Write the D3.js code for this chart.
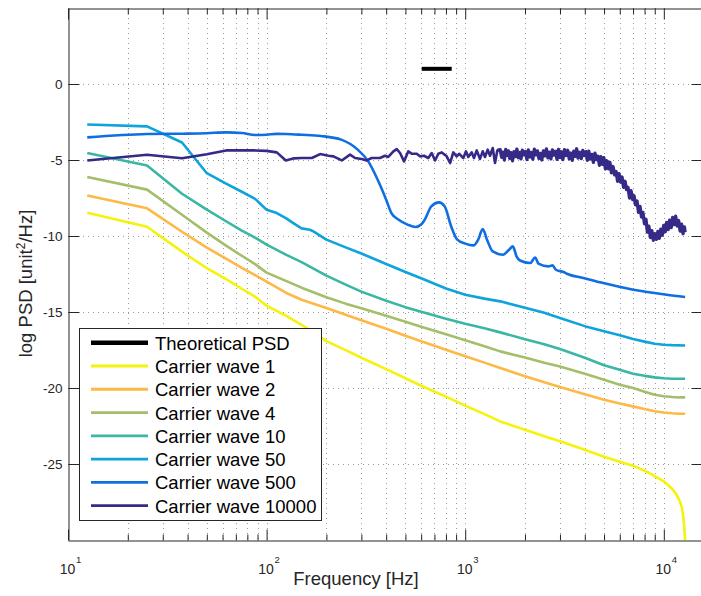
<!DOCTYPE html>
<html><head><meta charset="utf-8">
<script src="https://cdn.jsdelivr.net/npm/d3@7"></script>
<style>
body{margin:0;background:#fff;}
text{font-family:"Liberation Sans",Arial,Helvetica,sans-serif;fill:#262626;}
</style></head><body>
<svg id="c" width="701" height="596"></svg>
<script>
// ---------- DATA ----------
const seriesNames = ["Theoretical PSD","Carrier wave 1","Carrier wave 2","Carrier wave 4","Carrier wave 10","Carrier wave 50","Carrier wave 500","Carrier wave 10000"];
const seriesColors = ["#000000","#f5f20c","#fdb845","#a4be6b","#3ab7a2","#0ea3db","#0f6fe2","#352a87"];

const xMajorTicks = [10,100,1000,10000];
const xMajorExp = ["1","2","3","4"];
const xMinorTicks = [20,30,40,50,60,70,80,90,200,300,400,500,600,700,800,900,2000,3000,4000,5000,6000,7000,8000,9000];
const yTicks = [-25,-20,-15,-10,-5,0];

const theoFreq = [604, 855];
const theoPSD = [1, 1];

const freqSmooth = [12.5,25,37.5,50,62.5,75,87.5,100,125,150,200,250,300,400,500,600,800,1000,1250,1500,2000,2500,3000,4000,5000,6000,7000,8000,9000,10000,11000,12000,12800];

const freqWave1 = [12.5,25,37.5,50,62.5,75,87.5,100,125,150,200,250,300,400,500,600,800,1000,1250,1500,2000,2500,3000,4000,5000,6000,7000,8000,9000,10000,11000,11500,12000,12300,12500,12600,12700,12800];
const wave1 = [-8.47,-9.39,-11.03,-12.12,-12.84,-13.47,-13.99,-14.59,-15.24,-15.84,-16.92,-17.51,-18.01,-18.76,-19.36,-19.85,-20.57,-21.16,-21.72,-22.2,-22.74,-23.17,-23.51,-24.06,-24.52,-24.85,-25.11,-25.44,-25.80,-26.14,-26.63,-26.95,-27.41,-27.81,-28.34,-28.80,-29.32,-30.11];

const wave2 = [-7.33,-8.18,-9.72,-10.77,-11.49,-12.09,-12.58,-13.0,-13.73,-14.19,-14.74,-15.18,-15.54,-16.10,-16.56,-16.92,-17.48,-17.91,-18.33,-18.68,-19.22,-19.62,-19.93,-20.41,-20.77,-21.02,-21.21,-21.38,-21.53,-21.61,-21.66,-21.69,-21.69];

const wave4 = [-6.12,-6.95,-8.6,-9.78,-10.63,-11.30,-11.85,-12.41,-12.95,-13.4,-14.03,-14.45,-14.75,-15.24,-15.64,-15.97,-16.46,-16.86,-17.25,-17.59,-18.0,-18.34,-18.58,-19.06,-19.45,-19.78,-20.0,-20.24,-20.44,-20.54,-20.59,-20.62,-20.62];

const wave10 = [-4.54,-5.36,-7.22,-8.27,-9.03,-9.65,-10.11,-10.57,-11.23,-11.72,-12.61,-13.20,-13.66,-14.26,-14.68,-14.98,-15.44,-15.77,-16.07,-16.34,-16.79,-17.12,-17.44,-18.01,-18.5,-18.80,-19.06,-19.20,-19.30,-19.36,-19.39,-19.39,-19.39];

const freqWave50 = [12.5,25,37.5,50,62.5,75,87.5,100,112.5,125,137.5,150,165,172,200,250,300,400,500,600,800,1000,1250,1500,2000,2500,3000,4000,5000,6000,7000,8000,9000,10000,11000,12800];
const wave50 = [-2.66,-2.79,-3.85,-5.87,-6.56,-7.09,-7.56,-8.27,-8.49,-8.82,-9.19,-9.50,-9.59,-9.70,-10.24,-10.75,-11.15,-11.84,-12.37,-12.78,-13.45,-13.86,-14.12,-14.30,-14.72,-15.05,-15.39,-15.93,-16.26,-16.53,-16.78,-16.95,-17.09,-17.15,-17.18,-17.2];

const freqWave500 = [12.5,25,37.5,50,62.5,75,87.5,100,112.5,125,150,187.5,237.5,287.5,325,362.5,400,425,462.5,512.5,562.5,600,625,675,737.5,787.5,850,912.5,1000,1100,1162.5,1225,1287.5,1375,1550,1662.5,1737.5,1812.5,1887.5,2125,2250,2337.5,2625,2750,2862.5,3125,3250,3937.5,4775,7025,10337.5,12800];
const wave500 = [-3.51,-3.29,-3.27,-3.24,-3.18,-3.22,-3.36,-3.34,-3.28,-3.29,-3.34,-3.42,-3.66,-4.32,-5.09,-6.30,-7.61,-8.49,-8.93,-9.25,-9.41,-9.25,-8.93,-8.05,-7.79,-8.05,-9.37,-10.24,-10.5,-10.62,-10.24,-9.54,-10.24,-11.01,-11.23,-10.9,-10.68,-11.34,-11.61,-11.78,-11.41,-11.82,-12.0,-11.93,-12.22,-12.37,-12.48,-12.76,-13.05,-13.53,-13.86,-14.01];

// [frequency, log PSD] pairs
const wave10000 = [
[12.5,-5.03],[25,-4.65],[37.5,-4.89],[50,-4.62],[62.5,-4.37],[75,-4.37],[87.5,-4.37],[100,-4.40],[112.5,-4.50],[125,-5.03],[137.5,-4.89],[150,-4.87],
[169,-4.87],[186,-4.61],[205,-4.72],[217,-4.76],[239,-5.03],[263,-4.65],[279,-4.87],[301,-4.93],[319,-5.03],[338,-4.87],[372,-4.87],[395,-4.72],[410,-4.80],[435,-4.43],[452,-4.28],[470,-4.54],[492,-5.09],[517,-4.43],[538,-4.59],[570,-4.59],[592,-4.76],[620,-4.72],[652,-4.87],[678,-4.54],[705,-5.03],[732,-4.59],[762,-4.50],[807,-4.76],[839,-5.20],[871,-4.50],[906,-4.76],[934,-4.59],[978,-4.87],[1009,-4.43],[1036,-4.80],[1078,-4.50],[1107,-4.87],[1143,-4.37],[1187,-4.93],[1225,-4.43],[1258,-4.80],[1298,-4.32],[1333,-4.72],[1376,-4.21],[1413,-5.20],[1451,-4.37],
[1500,-4.32],[1525,-4.82],[1550,-4.48],[1575,-5.00],[1600,-4.30],[1625,-4.70],[1650,-4.40],[1675,-4.90],[1700,-4.52],[1730,-5.05],[1760,-4.45],[1790,-4.78],[1820,-4.28],[1850,-4.85],[1880,-4.50],[1910,-4.92],[1940,-4.36],[1975,-4.66],[2010,-4.44],[2045,-4.97],
[2080,-4.34],[2115,-4.80],[2150,-4.50],[2190,-4.95],[2230,-4.28],[2270,-4.66],[2310,-4.40],[2350,-4.90],[2390,-4.56],[2430,-5.00],[2475,-4.40],[2520,-4.73],[2565,-4.27],[2610,-4.86],[2655,-4.48],[2700,-4.93],[2750,-4.33],[2800,-4.68],[2850,-4.43],[2900,-4.96],
[2950,-4.30],[3000,-4.84],[3050,-4.46],[3100,-4.98],[3160,-4.32],[3220,-4.70],[3280,-4.36],[3340,-4.93],[3400,-4.54],[3460,-5.02],[3520,-4.42],[3580,-4.76],[3640,-4.26],[3700,-4.88],[3770,-4.49],[3840,-4.91],[3910,-4.37],[3980,-4.70],[4050,-4.45],[4120,-5.02],
[4190,-4.42],[4260,-4.94],[4340,-4.63],[4420,-5.16],[4500,-4.55],[4580,-4.98],[4660,-4.75],[4740,-5.35],[4820,-4.78],[4900,-5.28],[4990,-4.85],[5080,-5.59],[5170,-5.05],[5260,-5.58],[5350,-5.15],[5450,-5.85],[5550,-5.43],[5650,-5.98],[5750,-5.75],[5850,-6.40],
[5950,-5.90],[6050,-6.45],[6160,-6.12],[6270,-6.80],[6380,-6.40],[6490,-6.95],[6600,-6.80],[6720,-7.50],[6840,-7.02],[6960,-7.60],[7080,-7.35],[7200,-7.95],[7330,-7.70],[7460,-8.45],[7590,-8.05],[7720,-8.75],[7850,-8.45],[7990,-9.20],[8130,-8.90],[8270,-9.75],
[8410,-9.35],[8560,-10.10],[8710,-9.65],[8860,-10.28],[9010,-9.85],[9170,-10.22],[9330,-9.70],[9490,-10.15],[9650,-9.55],[9820,-9.95],[9990,-9.30],[10160,-9.72],[10340,-9.10],[10520,-9.58],[10700,-8.95],[10890,-9.45],[11080,-8.78],[11270,-9.25],[11470,-8.70],[11670,-9.35],
[11870,-8.98],[12080,-9.68],[12290,-9.22],[12500,-9.85],[12700,-9.40],[12800,-9.75]
];

// ---------- CHART ----------
const W = 701, H = 596;
const L = 68, T = 8, R = 703, B = 540;
const x = d3.scaleLog().domain([10, 15750]).range([L, R]);
const y = d3.scaleLinear().domain([-30, 5]).range([B, T]);

const svg = d3.select("#c");
svg.append("rect").attr("width", W).attr("height", H).attr("fill", "#fff");
svg.append("defs").append("clipPath").attr("id", "clip")
  .append("rect").attr("x", L).attr("y", T).attr("width", R - L).attr("height", B - T);

// grid
const grid = svg.append("g").attr("stroke", "#9a9a9a").attr("stroke-width", 1).attr("stroke-dasharray", "1,4");
grid.selectAll("line.gx").data(xMajorTicks.slice(1).concat(xMinorTicks)).join("line")
  .attr("class", "gx")
  .attr("x1", d => Math.round(x(d)) + 0.5).attr("x2", d => Math.round(x(d)) + 0.5)
  .attr("y1", T).attr("y2", B);
grid.selectAll("line.gy").data(yTicks).join("line")
  .attr("class", "gy")
  .attr("y1", d => Math.round(y(d)) + 0.5).attr("y2", d => Math.round(y(d)) + 0.5)
  .attr("x1", L).attr("x2", R);

// axes
function styleAxis(g) {
  g.selectAll("path.domain").attr("stroke", "#262626");
  g.selectAll(".tick line").attr("stroke", "#262626");
  g.selectAll(".tick text").attr("font-size", 13.5).attr("fill", "#262626")
    .attr("font-family", "'Liberation Sans',Arial,sans-serif");
}
svg.append("g").attr("transform", `translate(${L + 0.5},0)`)
  .call(d3.axisLeft(y).tickValues(yTicks).tickSize(-11).tickSizeOuter(0).tickPadding(6).tickFormat(d => d))
  .call(styleAxis);
svg.append("g").attr("transform", `translate(${R - 0.5},0)`)
  .call(d3.axisRight(y).tickValues(yTicks).tickSize(-11).tickSizeOuter(0).tickFormat(""))
  .call(styleAxis);
svg.append("g").attr("transform", `translate(0,${B + 0.5})`)
  .call(d3.axisBottom(x).tickValues(xMajorTicks).tickSize(-11).tickSizeOuter(0).tickFormat(""))
  .call(styleAxis);
svg.append("g").attr("transform", `translate(0,${B + 0.5})`)
  .call(d3.axisBottom(x).tickValues(xMinorTicks).tickSize(-6).tickSizeOuter(0).tickFormat(""))
  .call(styleAxis).select("path.domain").remove();
svg.append("g").attr("transform", `translate(0,${T + 0.5})`)
  .call(d3.axisTop(x).tickValues(xMajorTicks).tickSize(-11).tickSizeOuter(0).tickFormat(""))
  .call(styleAxis);
svg.append("g").attr("transform", `translate(0,${T + 0.5})`)
  .call(d3.axisTop(x).tickValues(xMinorTicks).tickSize(-6).tickSizeOuter(0).tickFormat(""))
  .call(styleAxis).select("path.domain").remove();

// x tick labels 10^n
const xl = svg.append("g");
xMajorTicks.forEach((v, i) => {
  xl.append("text").attr("x", x(v) - 0.5).attr("y", 574).attr("text-anchor", "middle")
    .attr("font-size", 14).text("10");
  xl.append("text").attr("x", x(v) + 8).attr("y", 563).attr("text-anchor", "start")
    .attr("font-size", 9.5).text(xMajorExp[i]);
});

// axis labels
svg.append("text").attr("x", 356).attr("y", 585).attr("text-anchor", "middle")
  .attr("font-size", 18.5).text("Frequency [Hz]");
const yl = svg.append("text").attr("transform", "translate(32,283.5) rotate(-90)")
  .attr("text-anchor", "middle").attr("font-size", 18.5);
yl.append("tspan").text("log PSD [unit");
yl.append("tspan").attr("font-size", 12).attr("dy", -7).text("2");
yl.append("tspan").attr("dy", 7).text("/Hz]");

// series
const series = [
  {data: d3.zip(theoFreq, theoPSD), width: 4, curve: d3.curveLinear},
  {data: d3.zip(freqWave1, wave1), width: 2.6, curve: d3.curveLinear},
  {data: d3.zip(freqSmooth, wave2), width: 2.6, curve: d3.curveLinear},
  {data: d3.zip(freqSmooth, wave4), width: 2.6, curve: d3.curveLinear},
  {data: d3.zip(freqSmooth, wave10), width: 2.6, curve: d3.curveLinear},
  {data: d3.zip(freqWave50, wave50), width: 2.6, curve: d3.curveLinear},
  {data: d3.zip(freqWave500, wave500), width: 2.6, curve: d3.curveMonotoneX},
  {data: wave10000.filter(d => d[0] <= 1500), width: 2.6, curve: d3.curveLinear},
  {data: wave10000.filter(d => d[0] >= 1451), width: 3.3, curve: d3.curveLinear}
];
const plot = svg.append("g").attr("clip-path", "url(#clip)");
series.forEach((s, i) => {
  const line = d3.line().x(d => x(d[0])).y(d => y(d[1])).curve(s.curve);
  plot.append("path").datum(s.data).attr("d", line)
    .attr("fill", "none").attr("stroke", seriesColors[Math.min(i, 7)])
    .attr("stroke-width", s.width).attr("stroke-linejoin", "round").attr("stroke-linecap", "butt");
});

// legend
const lg = svg.append("g");
lg.append("rect").attr("x", 79.5).attr("y", 328.5).attr("width", 242).attr("height", 192)
  .attr("fill", "#fff").attr("stroke", "#262626").attr("stroke-width", 1);
seriesNames.forEach((n, i) => {
  const yy = 342.7 + i * 23.28;
  lg.append("line").attr("x1", 91).attr("x2", 148).attr("y1", yy).attr("y2", yy)
    .attr("stroke", seriesColors[i]).attr("stroke-width", i === 0 ? 4.6 : 2.8);
  lg.append("text").attr("x", 155).attr("y", yy + 7).attr("font-size", 18.5)
    .attr("fill", "#000").style("fill", "#000").text(n);
});
</script>
</body></html>
